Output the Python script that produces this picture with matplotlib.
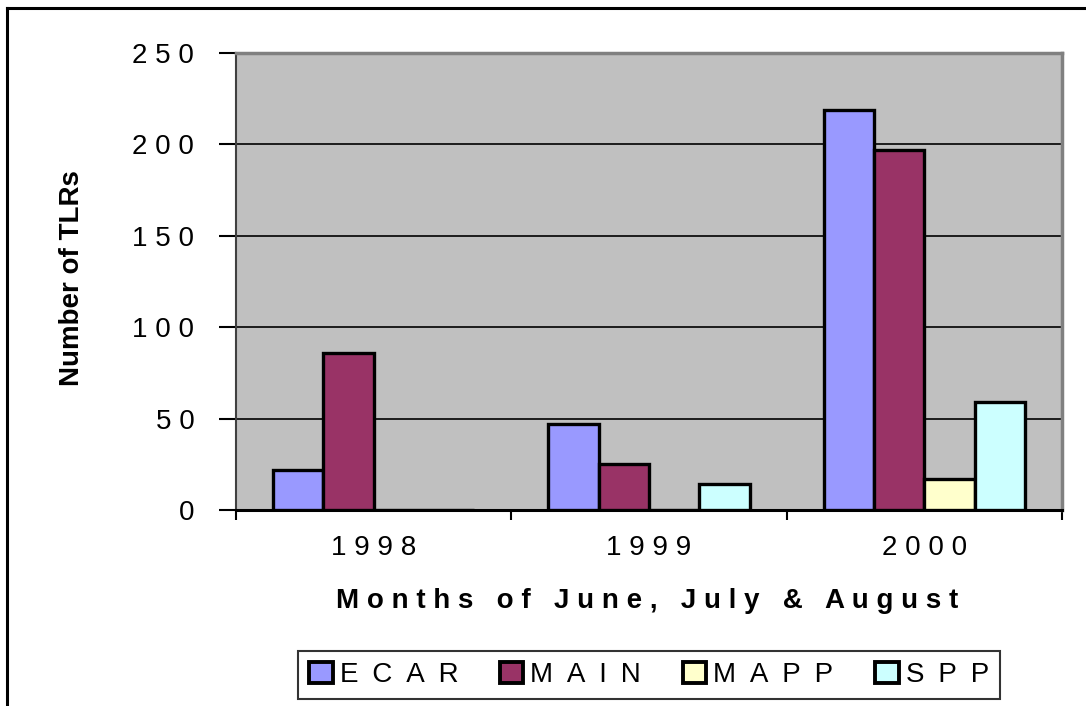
import numpy as np
import matplotlib
matplotlib.use('Agg')
import matplotlib.pyplot as plt
from matplotlib.patches import Patch
from matplotlib.lines import Line2D

plt.rcParams['font.family'] = ['Liberation Sans', 'DejaVu Sans']

#--------------------- DATA ----------------------------------------------
years = ['1998', '1999', '2000']
regions = ['ECAR', 'MAIN', 'MAPP', 'SPP']
ecar = [22, 47, 219]
main = [86, 25, 197]
mapp = [0, 0, 17]
spp = [0, 14, 59]
y_ticks = [0, 50, 100, 150, 200, 250]

series = [ecar, main, mapp, spp]
colors = ['#9999FF', '#993366', '#FFFFCC', '#CCFFFF']

# spread characters like the old Excel rendering
def spaced(s, sep=' '):
    return sep.join(list(s))

#--------------------- FIGURE ----------------------------------------------
W, H = 1086, 706
fig = plt.figure(figsize=(W / 100, H / 100), dpi=100)
ax = fig.add_axes([236 / W, 1 - 510 / H, 826 / W, 457 / H])
ax.set_facecolor('#C0C0C0')

x = np.arange(len(years))
bw = 0.183
for j, vals in enumerate(series):
    ax.bar(x + (j - 1.5) * bw, vals, width=bw, color=colors[j],
           edgecolor='black', linewidth=2.4, zorder=3)

ax.set_xlim(-0.5, len(years) - 0.5)
ax.set_ylim(0, 250)

# y axis
ax.set_yticks(y_ticks)
ax.set_yticklabels([spaced(str(v)) for v in y_ticks], fontsize=20)
ax.tick_params(axis='y', length=12, width=1.5, pad=18, direction='out')
ax.yaxis.grid(True, color='black', linewidth=1.2, zorder=1)

# x axis: labels at centres, ticks at boundaries
ax.set_xticks(x)
ax.set_xticklabels([spaced(y) for y in years], fontsize=20)
ax.tick_params(axis='x', which='major', length=0, pad=18)
ax.set_xticks(np.arange(-0.5, len(years)), minor=True)
ax.tick_params(axis='x', which='minor', length=7, width=1.5, direction='out')

ax.spines['top'].set_color('#808080')
ax.spines['top'].set_linewidth(2.5)
ax.spines['right'].set_color('#808080')
ax.spines['right'].set_linewidth(2.5)
ax.spines['left'].set_color('#404040')
ax.spines['left'].set_linewidth(1.5)
ax.spines['bottom'].set_color('black')
ax.spines['bottom'].set_linewidth(2.2)

# axis titles
fig.text(72 / W, 1 - 278 / H, 'Number of TLRs', rotation=90, ha='center',
         va='center', fontsize=20, fontweight='bold')
fig.text(647 / W, 1 - 601 / H, spaced('Months of June, July & August'),
         ha='center', va='center', fontsize=20, fontweight='bold')

# legend
handles = [Patch(facecolor=c, edgecolor='black', linewidth=2.8) for c in colors]
leg = fig.legend(handles, [spaced(r, '\u2002') for r in regions], loc='center',
                 bbox_to_anchor=(649 / W, 1 - 675 / H), ncol=4, fontsize=20,
                 frameon=True, fancybox=False, handlelength=0.85,
                 handleheight=0.8, handletextpad=0.25, columnspacing=1.5,
                 borderpad=0.4, borderaxespad=0)
leg.get_frame().set_edgecolor('black')
leg.get_frame().set_linewidth(1.5)

# outer chart border (left and top visible)
fig.add_artist(Line2D([7 / W, 7 / W], [0, 1 - 8 / H], transform=fig.transFigure,
                      color='black', linewidth=2.2))
fig.add_artist(Line2D([7 / W, 1], [1 - 8 / H, 1 - 8 / H], transform=fig.transFigure,
                      color='black', linewidth=2.2))

fig.savefig('out.png', dpi=100)
